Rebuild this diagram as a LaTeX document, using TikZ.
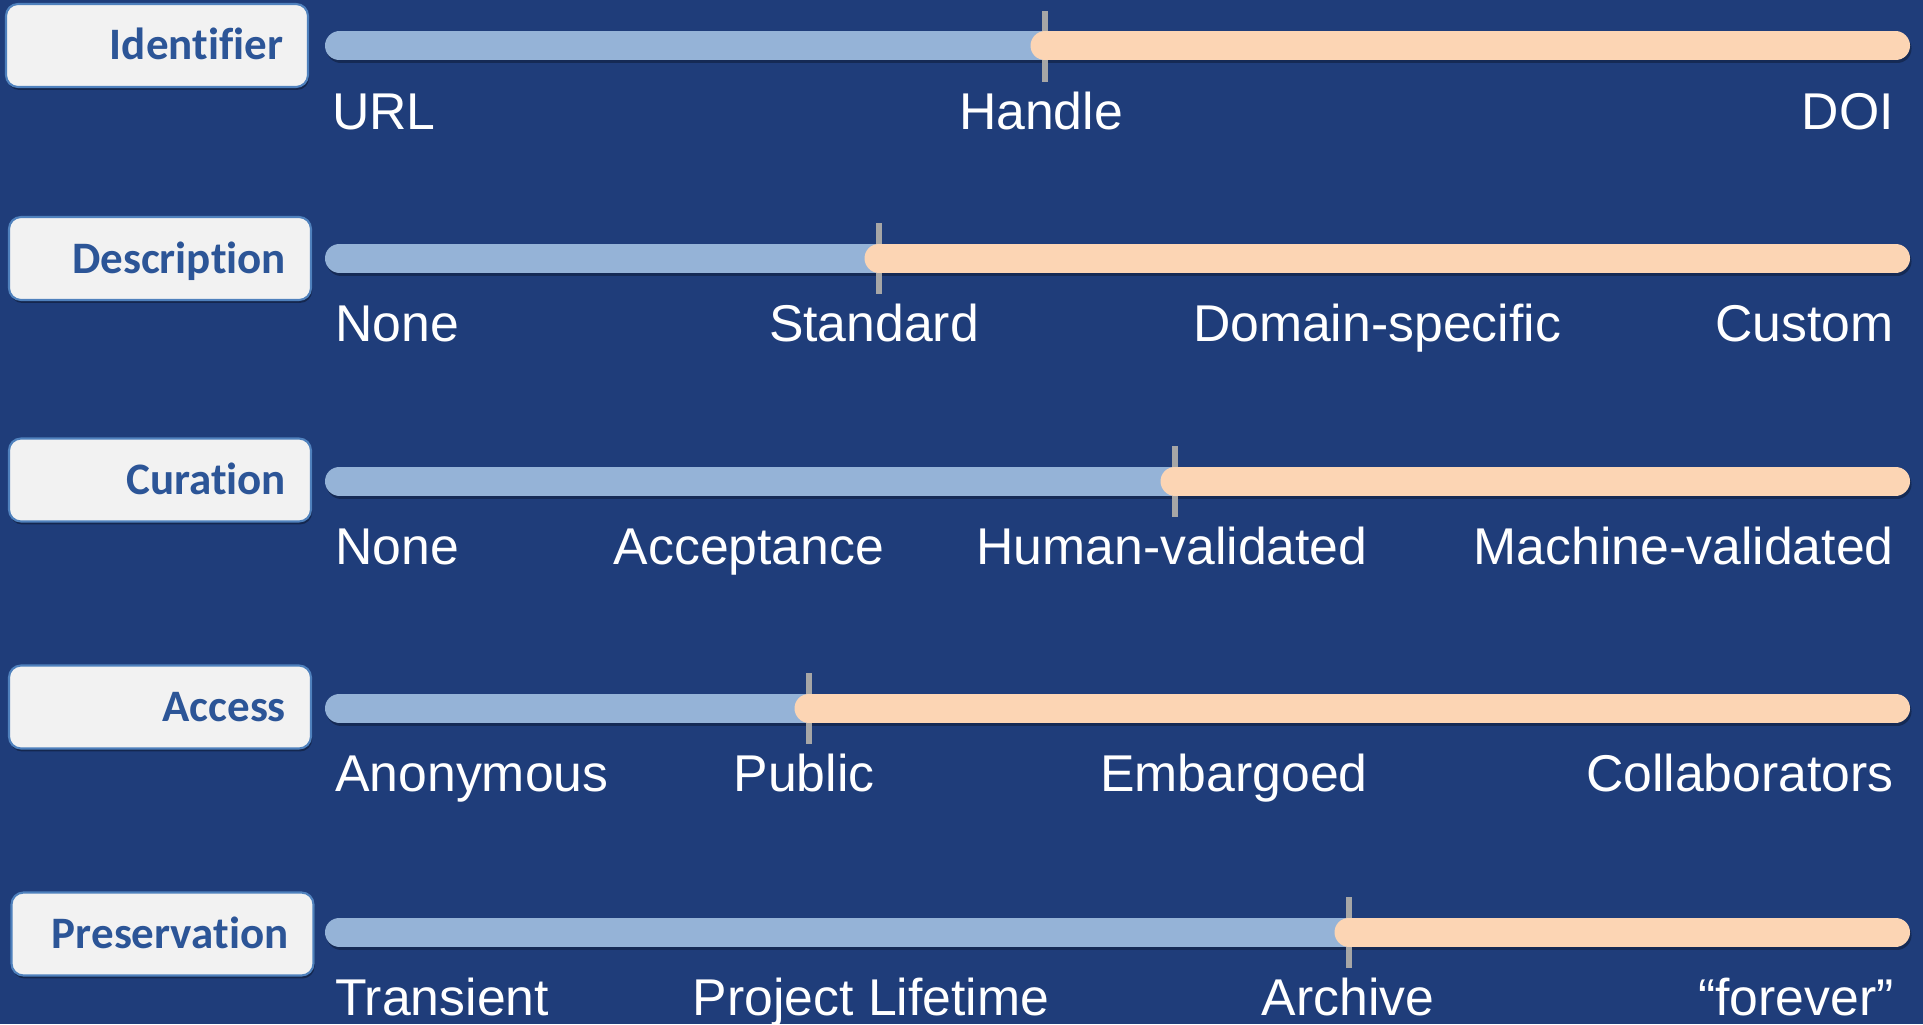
\documentclass[tikz,border=0pt]{standalone}
\usepackage{fontspec}
\setmainfont{Liberation Sans}
\newfontfamily\boxfont[Ligatures=NoCommon]{Carlito}
\usetikzlibrary{shadows}
\definecolor{bg}{HTML}{1F3D7A}
\definecolor{barblue}{HTML}{95B3D7}
\definecolor{barpeach}{HTML}{FCD5B4}
\definecolor{boxline}{HTML}{4F81BD}
\definecolor{boxfill}{HTML}{F2F2F2}
\definecolor{boxtext}{HTML}{2C5597}
\definecolor{tickgray}{HTML}{A6A6A6}
\tikzset{
  catbox/.style={draw=boxline, line width=1.6pt, fill=boxfill, rounded corners=9pt,
    text width=189pt, align=right, inner xsep=18.75pt, inner ysep=0pt,
    minimum height=62.25pt, text height=21.75pt, text depth=0pt,
    font=\boxfont\bfseries\fontsize{33.75pt}{36pt}\selectfont, text=boxtext,
    drop shadow={shadow xshift=0.8pt, shadow yshift=-2.2pt, opacity=0.35, fill=black}},
  barshadow/.style={line width=21.75pt, line cap=round, draw=black, opacity=0.3},
  bluebar/.style={line width=21.75pt, line cap=round, draw=barblue},
  peachbar/.style={line width=21.75pt, line cap=round, draw=barpeach},
  tickmark/.style={line width=3.8pt, draw=tickgray},
  lbl/.style={inner sep=0pt, text=white, font=\fontsize{38.8pt}{41pt}\selectfont},
}
\newcommand{\rowbar}[4]{% #1 name, #2 y, #3 tick x
  \coordinate (#1s) at (339.5,#2);
  \coordinate (#1e) at (1895.5,#2);
  \coordinate (#1k) at (#3,#2);
  \coordinate (#1ka) at (#3,#2-35);
  \coordinate (#1kb) at (#3,#2+36);
  \draw[barshadow] ([shift={(1.5,3)}]#1s) -- ([shift={(1.5,3)}]#1e);
  \draw[bluebar] (#1s) -- (#1k);
  \draw[tickmark] (#1ka) -- (#1kb);
  \draw[peachbar] (#1k) -- (#1e);
}
\begin{document}
\begin{tikzpicture}[x=0.75pt,y=-0.75pt]
\fill[bg] (0,0) rectangle (1923,1024);
\useasboundingbox (0,0) rectangle (1923,1024);

% Row 1: Identifier
\node[catbox] (c1) at (157,45.5) {Identifier};
\rowbar{r1}{46}{1045}{}
\node[lbl, anchor=base west] (r1a) at (332,129) {URL};
\node[lbl, anchor=base] (r1b) at (1041,129) {Handle};
\node[lbl, anchor=base east] (r1c) at (1894,129) {DOI};

% Row 2: Description
\node[catbox] (c2) at (160,258.5) {Description};
\rowbar{r2}{258}{879}{}
\node[lbl, anchor=base west] (r2a) at (335,341) {None};
\node[lbl, anchor=base] (r2b) at (874,341) {Standard};
\node[lbl, anchor=base] (r2c) at (1377,341) {Domain-specific};
\node[lbl, anchor=base east] (r2d) at (1894,341) {Custom};

% Row 3: Curation
\node[catbox] (c3) at (160,480) {Curation};
\rowbar{r3}{481}{1175}{}
\node[lbl, anchor=base west] (r3a) at (335,564) {None};
\node[lbl, anchor=base] (r3b) at (749,564) {Acceptance};
\node[lbl, anchor=base] (r3c) at (1172,564) {Human-validated};
\node[lbl, anchor=base east] (r3d) at (1894,564) {Machine-validated};

% Row 4: Access
\node[catbox] (c4) at (160,707) {Access};
\rowbar{r4}{708}{809}{}
\node[lbl, anchor=base west] (r4a) at (335,791) {Anonymous};
\node[lbl, anchor=base] (r4b) at (804,791) {Public};
\node[lbl, anchor=base] (r4c) at (1234,791) {Embargoed};
\node[lbl, anchor=base east] (r4d) at (1894,791) {Collaborators};

% Row 5: Preservation
\node[catbox] (c5) at (162.5,934) {Preservation};
\rowbar{r5}{932}{1349}{}
\node[lbl, anchor=base west] (r5a) at (335,1015) {Transient};
\node[lbl, anchor=base] (r5b) at (871,1015) {Project Lifetime};
\node[lbl, anchor=base] (r5c) at (1348,1015) {Archive};
\node[lbl, anchor=base east] (r5d) at (1894,1015) {“forever”};
\end{tikzpicture}
\end{document}
